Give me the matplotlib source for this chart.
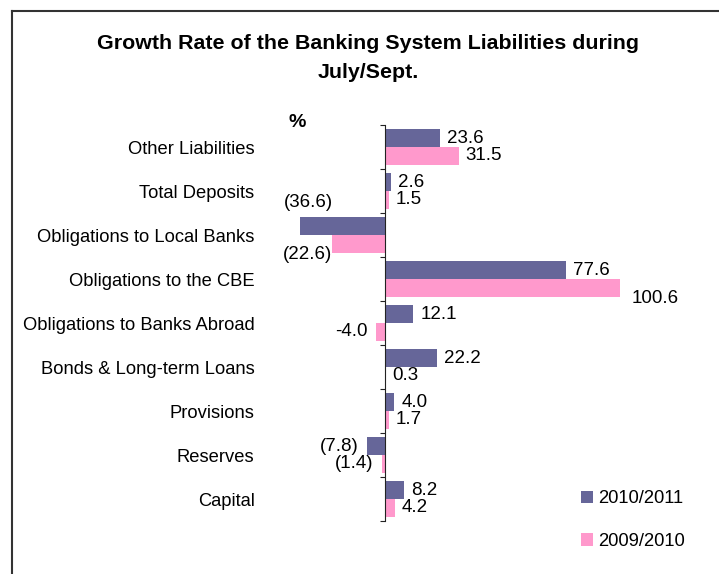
import matplotlib.pyplot as plt
from matplotlib.lines import Line2D
import numpy as np

plt.rcParams['font.family'] = ['Liberation Sans', 'DejaVu Sans']

categories = ['Other Liabilities', 'Total Deposits', 'Obligations to Local Banks',
              'Obligations to the CBE', 'Obligations to Banks Abroad',
              'Bonds & Long-term Loans', 'Provisions', 'Reserves', 'Capital']
growth_1011 = [23.6, 2.6, -36.6, 77.6, 12.1, 22.2, 4.0, -7.8, 8.2]
growth_0910 = [31.5, 1.5, -22.6, 100.6, -4.0, 0.3, 1.7, -1.4, 4.2]
series_names = ['2010/2011', '2009/2010']
colors = ['#666699', '#FF99CC']

# negatives are written in brackets, except this one
plain_negative = {(1, 4)}
# hand-placed labels: (series, category) -> (dx pt, dy pt, ha)
label_moves = {
    (0, 2): (24, 17, 'right'),
    (1, 2): (0, -7.5, 'right'),
    (1, 3): (8.5, -7.5, 'left'),
}


def fmt(v, key):
    if v < 0 and key not in plain_negative:
        return f'({abs(v):.1f})'
    return f'{v:.1f}'


fig = plt.figure(figsize=(7.19, 5.74), dpi=100)
ax = fig.add_axes([0.3894, 0.0923, 0.5035, 0.6899])

n = len(categories)
ypos = np.arange(n)[::-1]
h = 0.4
for s, vals in enumerate([growth_1011, growth_0910]):
    yy = ypos + (h / 2 if s == 0 else -h / 2)
    ax.barh(yy, vals, height=h, color=colors[s], label=series_names[s], zorder=2)
    for i, v in enumerate(vals):
        key = (s, i)
        if key in label_moves:
            dx, dy, ha = label_moves[key]
        elif v >= 0:
            dx, dy, ha = 5, 0, 'left'
        else:
            dx, dy, ha = -6, 0, 'right'
        ax.annotate(fmt(v, key), (v, yy[i]), xytext=(dx, dy), textcoords='offset points',
                    ha=ha, va='center', fontsize=13.5)

ax.set_xlim(-45, 110)
ax.set_ylim(-0.5, n - 0.5)

for sp in ['top', 'right', 'bottom']:
    ax.spines[sp].set_visible(False)
ax.spines['left'].set_position(('data', 0))
ax.spines['left'].set_color('#222222')
ax.set_xticks([])
ax.set_yticks(np.arange(-0.5, n, 1.0))
ax.set_yticklabels([])
ax.tick_params(axis='y', which='major', length=3.5, direction='out', color='#222222')
ax.set_yticks(ypos, categories, minor=True)
ax.tick_params(axis='y', which='minor', length=0, pad=94, labelsize=13.2)

fig.text(0.512, 0.924, 'Growth Rate of the Banking System Liabilities during',
         ha='center', va='center', fontsize=15.4, fontweight='bold')
fig.text(0.512, 0.873, 'July/Sept.', ha='center', va='center', fontsize=15.4, fontweight='bold')
fig.text(0.413, 0.787, '%', ha='center', va='center', fontsize=14, fontweight='bold')

fig.legend(loc='upper left', bbox_to_anchor=(0.808, 0.146), frameon=False, fontsize=13.2,
           handlelength=0.66, handleheight=0.66, handletextpad=0.3, labelspacing=1.41,
           borderpad=0, borderaxespad=0)

# outer frame (left and top edges)
fig.add_artist(Line2D([12 / 719, 12 / 719], [0, 1 - 11 / 574], transform=fig.transFigure,
                      color='#333333', lw=1.5))
fig.add_artist(Line2D([12 / 719, 1], [1 - 11 / 574, 1 - 11 / 574], transform=fig.transFigure,
                      color='#333333', lw=1.5))

fig.savefig('out.png', dpi=100)
